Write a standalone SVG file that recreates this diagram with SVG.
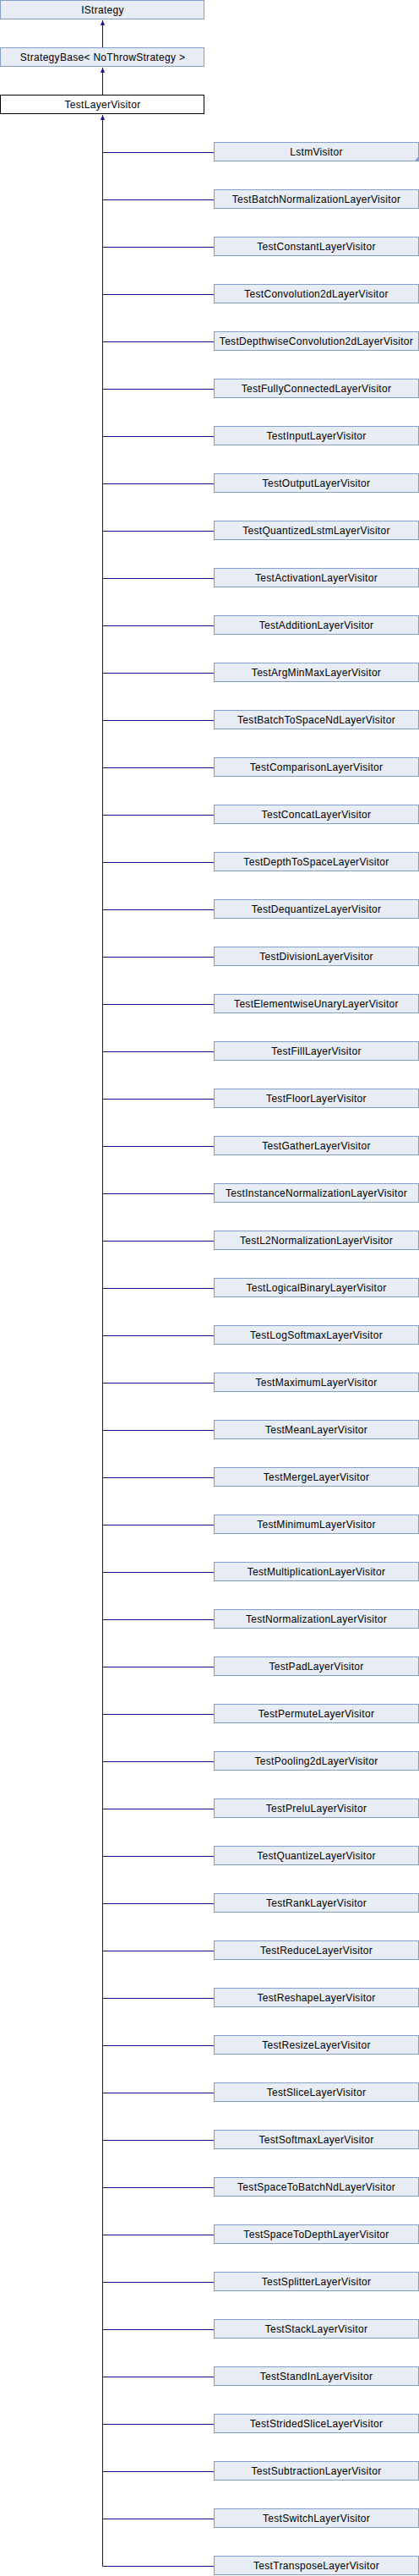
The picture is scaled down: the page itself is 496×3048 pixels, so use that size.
<svg xmlns="http://www.w3.org/2000/svg" width="496" height="3048" viewBox="0 0 496 3048">
<style>
.b rect{fill:#e8ecf5;stroke:#849cce;stroke-width:1}
.cur rect{fill:#ffffff;stroke:#000000;stroke-width:1}
text{font-family:"Liberation Sans",Arial,sans-serif;font-size:12px;letter-spacing:0.3px;text-anchor:middle;fill:#000000}
.e{stroke:#10108c;stroke-width:1;fill:none}
</style>
<defs>
<marker id="ah" viewBox="0 0 6 5" refX="6" refY="2.5" markerWidth="6" markerHeight="5" markerUnits="userSpaceOnUse" orient="auto">
<path d="M0,0 L6,2.5 L0,5 z" fill="#10108c"/>
</marker>
</defs>
<rect width="496" height="3048" fill="#ffffff"/>
<g id="connectors">
<path class="e" d="M121.5,56 V24" marker-end="url(#ah)"/>
<path class="e" d="M121.5,112 V80" marker-end="url(#ah)"/>
<path class="e" d="M121.5,3036.5 V136" marker-end="url(#ah)"/>
<path class="e" d="M121.5,180.5H253 M121.5,236.5H253 M121.5,292.5H253 M121.5,348.5H253 M121.5,404.5H253 M121.5,460.5H253 M121.5,516.5H253 M121.5,572.5H253 M121.5,628.5H253 M121.5,684.5H253 M121.5,740.5H253 M121.5,796.5H253 M121.5,852.5H253 M121.5,908.5H253 M121.5,964.5H253 M121.5,1020.5H253 M121.5,1076.5H253 M121.5,1132.5H253 M121.5,1188.5H253 M121.5,1244.5H253 M121.5,1300.5H253 M121.5,1356.5H253 M121.5,1412.5H253 M121.5,1468.5H253 M121.5,1524.5H253 M121.5,1580.5H253 M121.5,1636.5H253 M121.5,1692.5H253 M121.5,1748.5H253 M121.5,1804.5H253 M121.5,1860.5H253 M121.5,1916.5H253 M121.5,1972.5H253 M121.5,2028.5H253 M121.5,2084.5H253 M121.5,2140.5H253 M121.5,2196.5H253 M121.5,2252.5H253 M121.5,2308.5H253 M121.5,2364.5H253 M121.5,2420.5H253 M121.5,2476.5H253 M121.5,2532.5H253 M121.5,2588.5H253 M121.5,2644.5H253 M121.5,2700.5H253 M121.5,2756.5H253 M121.5,2812.5H253 M121.5,2868.5H253 M121.5,2924.5H253 M121.5,2980.5H253 M121.5,3036.5H253"/>
</g>
<g id="IStrategy" class="b" transform="translate(0.5,0.5)"><rect width="241" height="22"/><text x="121" y="15.5">IStrategy</text></g>
<g id="StrategyBase" class="b" transform="translate(0.5,56.5)"><rect width="241" height="22"/><text x="121" y="15.5">StrategyBase&lt; NoThrowStrategy &gt;</text></g>
<g id="TestLayerVisitor" class="cur" transform="translate(0.5,112.5)"><rect width="241" height="22"/><text x="121" y="15.5">TestLayerVisitor</text></g>
<g id="LstmVisitor" class="b" transform="translate(253.5,168.5)"><rect width="242" height="22"/><text x="121" y="15.5">LstmVisitor</text><path d="M237,22 L242,22 L242,17 z" fill="#849cce"/></g>
<g id="n1" class="b" transform="translate(253.5,224.5)"><rect width="242" height="22"/><text x="121" y="15.5">TestBatchNormalizationLayerVisitor</text></g>
<g id="n2" class="b" transform="translate(253.5,280.5)"><rect width="242" height="22"/><text x="121" y="15.5">TestConstantLayerVisitor</text></g>
<g id="n3" class="b" transform="translate(253.5,336.5)"><rect width="242" height="22"/><text x="121" y="15.5">TestConvolution2dLayerVisitor</text></g>
<g id="n4" class="b" transform="translate(253.5,392.5)"><rect width="242" height="22"/><text x="121" y="15.5">TestDepthwiseConvolution2dLayerVisitor</text></g>
<g id="n5" class="b" transform="translate(253.5,448.5)"><rect width="242" height="22"/><text x="121" y="15.5">TestFullyConnectedLayerVisitor</text></g>
<g id="n6" class="b" transform="translate(253.5,504.5)"><rect width="242" height="22"/><text x="121" y="15.5">TestInputLayerVisitor</text></g>
<g id="n7" class="b" transform="translate(253.5,560.5)"><rect width="242" height="22"/><text x="121" y="15.5">TestOutputLayerVisitor</text></g>
<g id="n8" class="b" transform="translate(253.5,616.5)"><rect width="242" height="22"/><text x="121" y="15.5">TestQuantizedLstmLayerVisitor</text></g>
<g id="n9" class="b" transform="translate(253.5,672.5)"><rect width="242" height="22"/><text x="121" y="15.5">TestActivationLayerVisitor</text></g>
<g id="n10" class="b" transform="translate(253.5,728.5)"><rect width="242" height="22"/><text x="121" y="15.5">TestAdditionLayerVisitor</text></g>
<g id="n11" class="b" transform="translate(253.5,784.5)"><rect width="242" height="22"/><text x="121" y="15.5">TestArgMinMaxLayerVisitor</text></g>
<g id="n12" class="b" transform="translate(253.5,840.5)"><rect width="242" height="22"/><text x="121" y="15.5">TestBatchToSpaceNdLayerVisitor</text></g>
<g id="n13" class="b" transform="translate(253.5,896.5)"><rect width="242" height="22"/><text x="121" y="15.5">TestComparisonLayerVisitor</text></g>
<g id="n14" class="b" transform="translate(253.5,952.5)"><rect width="242" height="22"/><text x="121" y="15.5">TestConcatLayerVisitor</text></g>
<g id="n15" class="b" transform="translate(253.5,1008.5)"><rect width="242" height="22"/><text x="121" y="15.5">TestDepthToSpaceLayerVisitor</text></g>
<g id="n16" class="b" transform="translate(253.5,1064.5)"><rect width="242" height="22"/><text x="121" y="15.5">TestDequantizeLayerVisitor</text></g>
<g id="n17" class="b" transform="translate(253.5,1120.5)"><rect width="242" height="22"/><text x="121" y="15.5">TestDivisionLayerVisitor</text></g>
<g id="n18" class="b" transform="translate(253.5,1176.5)"><rect width="242" height="22"/><text x="121" y="15.5">TestElementwiseUnaryLayerVisitor</text></g>
<g id="n19" class="b" transform="translate(253.5,1232.5)"><rect width="242" height="22"/><text x="121" y="15.5">TestFillLayerVisitor</text></g>
<g id="n20" class="b" transform="translate(253.5,1288.5)"><rect width="242" height="22"/><text x="121" y="15.5">TestFloorLayerVisitor</text></g>
<g id="n21" class="b" transform="translate(253.5,1344.5)"><rect width="242" height="22"/><text x="121" y="15.5">TestGatherLayerVisitor</text></g>
<g id="n22" class="b" transform="translate(253.5,1400.5)"><rect width="242" height="22"/><text x="121" y="15.5">TestInstanceNormalizationLayerVisitor</text></g>
<g id="n23" class="b" transform="translate(253.5,1456.5)"><rect width="242" height="22"/><text x="121" y="15.5">TestL2NormalizationLayerVisitor</text></g>
<g id="n24" class="b" transform="translate(253.5,1512.5)"><rect width="242" height="22"/><text x="121" y="15.5">TestLogicalBinaryLayerVisitor</text></g>
<g id="n25" class="b" transform="translate(253.5,1568.5)"><rect width="242" height="22"/><text x="121" y="15.5">TestLogSoftmaxLayerVisitor</text></g>
<g id="n26" class="b" transform="translate(253.5,1624.5)"><rect width="242" height="22"/><text x="121" y="15.5">TestMaximumLayerVisitor</text></g>
<g id="n27" class="b" transform="translate(253.5,1680.5)"><rect width="242" height="22"/><text x="121" y="15.5">TestMeanLayerVisitor</text></g>
<g id="n28" class="b" transform="translate(253.5,1736.5)"><rect width="242" height="22"/><text x="121" y="15.5">TestMergeLayerVisitor</text></g>
<g id="n29" class="b" transform="translate(253.5,1792.5)"><rect width="242" height="22"/><text x="121" y="15.5">TestMinimumLayerVisitor</text></g>
<g id="n30" class="b" transform="translate(253.5,1848.5)"><rect width="242" height="22"/><text x="121" y="15.5">TestMultiplicationLayerVisitor</text></g>
<g id="n31" class="b" transform="translate(253.5,1904.5)"><rect width="242" height="22"/><text x="121" y="15.5">TestNormalizationLayerVisitor</text></g>
<g id="n32" class="b" transform="translate(253.5,1960.5)"><rect width="242" height="22"/><text x="121" y="15.5">TestPadLayerVisitor</text></g>
<g id="n33" class="b" transform="translate(253.5,2016.5)"><rect width="242" height="22"/><text x="121" y="15.5">TestPermuteLayerVisitor</text></g>
<g id="n34" class="b" transform="translate(253.5,2072.5)"><rect width="242" height="22"/><text x="121" y="15.5">TestPooling2dLayerVisitor</text></g>
<g id="n35" class="b" transform="translate(253.5,2128.5)"><rect width="242" height="22"/><text x="121" y="15.5">TestPreluLayerVisitor</text></g>
<g id="n36" class="b" transform="translate(253.5,2184.5)"><rect width="242" height="22"/><text x="121" y="15.5">TestQuantizeLayerVisitor</text></g>
<g id="n37" class="b" transform="translate(253.5,2240.5)"><rect width="242" height="22"/><text x="121" y="15.5">TestRankLayerVisitor</text></g>
<g id="n38" class="b" transform="translate(253.5,2296.5)"><rect width="242" height="22"/><text x="121" y="15.5">TestReduceLayerVisitor</text></g>
<g id="n39" class="b" transform="translate(253.5,2352.5)"><rect width="242" height="22"/><text x="121" y="15.5">TestReshapeLayerVisitor</text></g>
<g id="n40" class="b" transform="translate(253.5,2408.5)"><rect width="242" height="22"/><text x="121" y="15.5">TestResizeLayerVisitor</text></g>
<g id="n41" class="b" transform="translate(253.5,2464.5)"><rect width="242" height="22"/><text x="121" y="15.5">TestSliceLayerVisitor</text></g>
<g id="n42" class="b" transform="translate(253.5,2520.5)"><rect width="242" height="22"/><text x="121" y="15.5">TestSoftmaxLayerVisitor</text></g>
<g id="n43" class="b" transform="translate(253.5,2576.5)"><rect width="242" height="22"/><text x="121" y="15.5">TestSpaceToBatchNdLayerVisitor</text></g>
<g id="n44" class="b" transform="translate(253.5,2632.5)"><rect width="242" height="22"/><text x="121" y="15.5">TestSpaceToDepthLayerVisitor</text></g>
<g id="n45" class="b" transform="translate(253.5,2688.5)"><rect width="242" height="22"/><text x="121" y="15.5">TestSplitterLayerVisitor</text></g>
<g id="n46" class="b" transform="translate(253.5,2744.5)"><rect width="242" height="22"/><text x="121" y="15.5">TestStackLayerVisitor</text></g>
<g id="n47" class="b" transform="translate(253.5,2800.5)"><rect width="242" height="22"/><text x="121" y="15.5">TestStandInLayerVisitor</text></g>
<g id="n48" class="b" transform="translate(253.5,2856.5)"><rect width="242" height="22"/><text x="121" y="15.5">TestStridedSliceLayerVisitor</text></g>
<g id="n49" class="b" transform="translate(253.5,2912.5)"><rect width="242" height="22"/><text x="121" y="15.5">TestSubtractionLayerVisitor</text></g>
<g id="n50" class="b" transform="translate(253.5,2968.5)"><rect width="242" height="22"/><text x="121" y="15.5">TestSwitchLayerVisitor</text></g>
<g id="n51" class="b" transform="translate(253.5,3024.5)"><rect width="242" height="22"/><text x="121" y="15.5">TestTransposeLayerVisitor</text></g>
</svg>
